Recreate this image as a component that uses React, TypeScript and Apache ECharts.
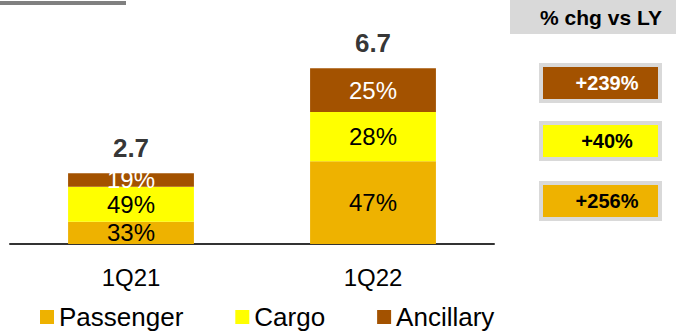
import React, { useEffect, useRef } from "react";
import * as echarts from "echarts";

const categories = ["1Q21", "1Q22"];
const seriesNames = ["Passenger", "Cargo", "Ancillary"];
const passenger = [0.85, 3.15];
const cargo = [1.33, 1.88];
const ancillary = [0.52, 1.67];
const totals = [2.7, 6.7];
const passengerShare = ["33%", "47%"];
const cargoShare = ["49%", "28%"];
const ancillaryShare = ["19%", "25%"];
const changeHeader = "% chg vs LY";
const changeLabels = ["+239%", "+40%", "+256%"]; // Ancillary, Cargo, Passenger

const FONT = "'Liberation Sans', Arial, sans-serif";
const C_PASS = "#EEB200";
const C_CARGO = "#FFFF00";
const C_ANC = "#A35200";

export default function App() {
  const ref = useRef<HTMLDivElement>(null);
  useEffect(() => {
    if (!ref.current) return;
    const chart = echarts.init(ref.current, null, { renderer: "svg" });
    const segData = [passenger, cargo, ancillary];
    const segShare = [passengerShare, cargoShare, ancillaryShare];
    const segColor = [C_PASS, C_CARGO, C_ANC];
    const segText = ["#000", "#000", "#fff"];
    const bars = seriesNames.map((name, i) => ({
      name,
      type: "bar",
      stack: "total",
      barWidth: "52%",
      data: segData[i],
      itemStyle: { color: segColor[i] },
      label: {
        show: true,
        position: "inside",
        formatter: (p: any) => segShare[i][p.dataIndex],
        fontSize: 24,
        fontFamily: FONT,
        color: segText[i],
      },
    }));
    const boxColors = [C_ANC, C_CARGO, C_PASS];
    const boxText = ["#fff", "#000", "#000"];
    const boxY = [65, 123, 183];
    const boxH = [36, 36, 36];
    const graphic: any[] = [
      { type: "rect", left: 0, top: 1, shape: { width: 126, height: 4 }, style: { fill: "#808080" } },
      { type: "rect", x: 510, y: 0, shape: { width: 166, height: 34 }, style: { fill: "#D9D9D9" } },
      {
        type: "text",
        x: 601,
        y: 17,
        style: {
          text: changeHeader,
          fontSize: 21,
          fontWeight: "bold",
          fontFamily: FONT,
          fill: "#000",
          textAlign: "center",
          textVerticalAlign: "middle",
        },
      },
    ];
    changeLabels.forEach((t, i) => {
      graphic.push({
        type: "rect",
        x: 541,
        y: boxY[i],
        shape: { width: 119, height: boxH[i] },
        style: { fill: boxColors[i], stroke: "#D9D9D9", lineWidth: 4 },
      });
      graphic.push({
        type: "text",
        x: 607,
        y: boxY[i] + boxH[i] / 2,
        style: {
          text: t,
          fontSize: 20,
          fontWeight: "bold",
          fontFamily: FONT,
          fill: boxText[i],
          textAlign: "center",
          textVerticalAlign: "middle",
        },
      });
    });
    chart.setOption({
      animation: false,
      textStyle: { fontFamily: FONT },
      grid: { left: 10, right: 182, top: 34, bottom: 87 },
      legend: {
        data: seriesNames,
        left: 35,
        top: 299,
        icon: "rect",
        itemWidth: 14,
        itemHeight: 14,
        itemGap: 52,
        textStyle: { fontSize: 26, color: "#000", fontFamily: FONT },
      },
      xAxis: {
        type: "category",
        data: categories,
        axisLine: { lineStyle: { color: "#333", width: 2 } },
        axisTick: { show: false },
        axisLabel: { fontSize: 24, color: "#000", margin: 21, fontFamily: FONT },
      },
      yAxis: { type: "value", min: 0, max: 8, show: false },
      series: [
        ...bars,
        {
          name: "Total",
          type: "scatter",
          data: totals,
          symbolSize: 0,
          label: {
            show: true,
            position: "top",
            distance: 12,
            formatter: (p: any) => String(totals[p.dataIndex]),
            fontSize: 26,
            fontWeight: "bold",
            color: "#000",
            fontFamily: FONT,
          },
        },
      ],
      graphic,
    });
    return () => chart.dispose();
  }, []);
  return (
    <div
      ref={ref}
      style={{ position: "fixed", left: 0, top: 0, width: 676, height: 331, background: "#fff" }}
    />
  );
}
